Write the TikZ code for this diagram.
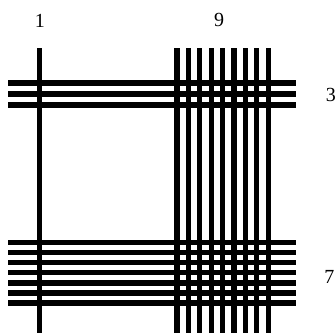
\documentclass[tikz,border=0pt]{standalone}
\usepackage{fontspec}
\setmainfont{Liberation Serif}
\begin{document}
\begin{tikzpicture}[x=0.75pt, y=-0.75pt,
    bar/.style={line width=4pt},
    lab/.style={font=\fontsize{15}{17}\selectfont, inner sep=0pt}]
  \useasboundingbox (0,0) rectangle (336,333);
  % vertical threads
  \draw[bar] (39.5,48) -- (39.5,333);
  \foreach \i in {0,...,8}
    \draw[bar] ({177+11.4*\i},48) -- ({177+11.4*\i},333);
  % horizontal threads
  \foreach \i in {0,1,2}
    \draw[bar] (8,{83+11*\i}) -- (296,{83+11*\i});
  \foreach \i in {0,...,6}
    \draw[bar] (8,{242.5+10.1*\i}) -- (296,{242.5+10.1*\i});
  % counts
  \node[lab] (nleft) at (40,21) {1};
  \node[lab] (nright) at (219,20) {9};
  \node[lab, anchor=west] (ntop) at (325.5,95) {3};
  \node[lab, anchor=west] (nbot) at (324,277) {7};
\end{tikzpicture}
\end{document}
